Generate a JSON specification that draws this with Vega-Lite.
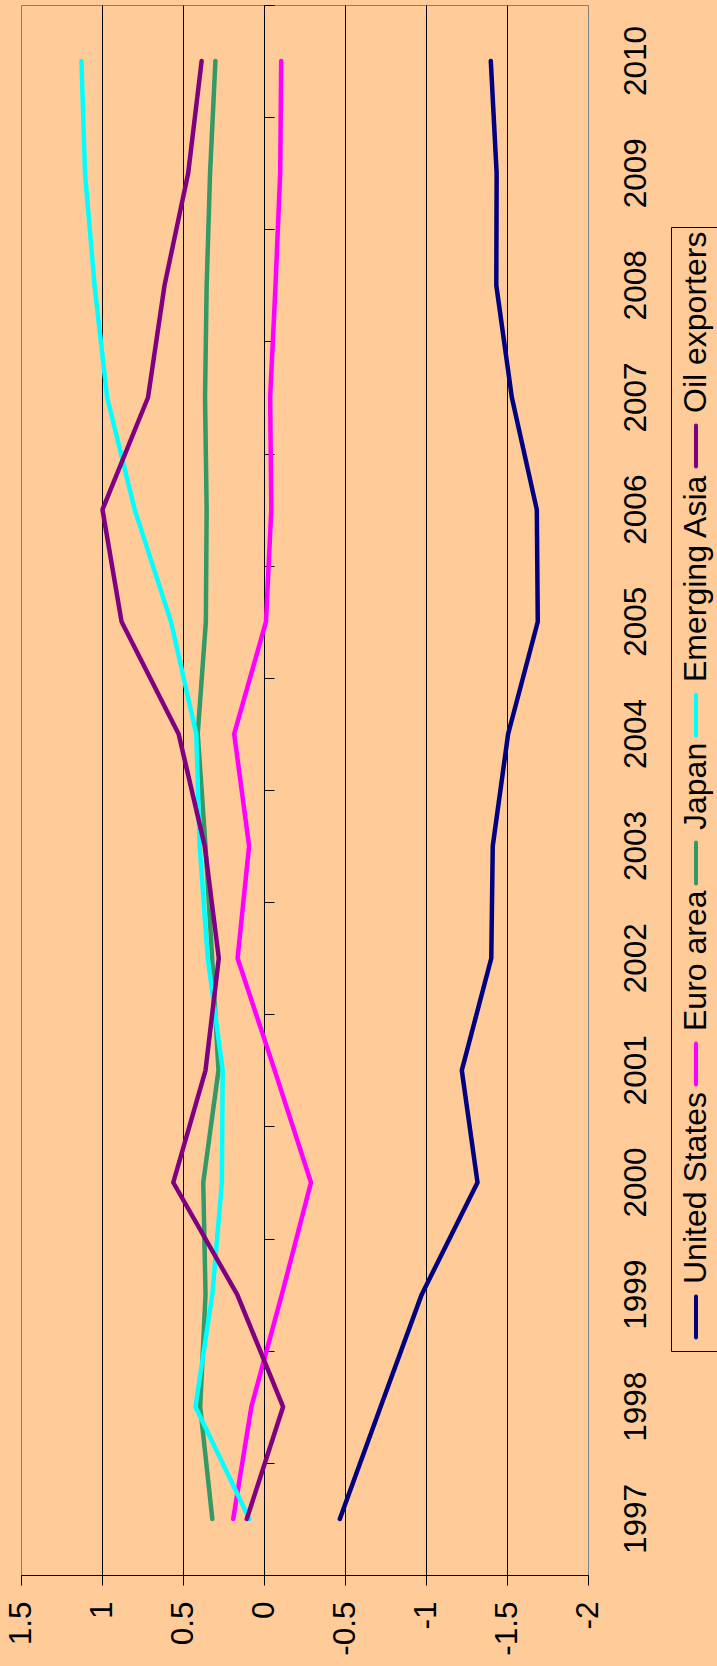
{
  "$schema": "https://vega.github.io/schema/vega-lite/v6.json",
  "width": 567,
  "height": 1570,
  "autosize": {"type": "none"},
  "padding": {"left": 21, "top": 5, "right": 129, "bottom": 91},
  "background": "#FFCC99",
  "config": {"view": {"stroke": "#808080", "strokeWidth": 1}, "font": "Liberation Sans"},
  "data": {"values": [
    {"year": "1997", "series": "United States", "value": -0.468},
    {"year": "1998", "series": "United States", "value": -0.72},
    {"year": "1999", "series": "United States", "value": -0.973},
    {"year": "2000", "series": "United States", "value": -1.318},
    {"year": "2001", "series": "United States", "value": -1.221},
    {"year": "2002", "series": "United States", "value": -1.403},
    {"year": "2003", "series": "United States", "value": -1.412},
    {"year": "2004", "series": "United States", "value": -1.507},
    {"year": "2005", "series": "United States", "value": -1.69},
    {"year": "2006", "series": "United States", "value": -1.684},
    {"year": "2007", "series": "United States", "value": -1.53},
    {"year": "2008", "series": "United States", "value": -1.434},
    {"year": "2009", "series": "United States", "value": -1.436},
    {"year": "2010", "series": "United States", "value": -1.4},
    {"year": "1997", "series": "Euro area", "value": 0.19},
    {"year": "1998", "series": "Euro area", "value": 0.078},
    {"year": "1999", "series": "Euro area", "value": -0.11},
    {"year": "2000", "series": "Euro area", "value": -0.29},
    {"year": "2001", "series": "Euro area", "value": -0.066},
    {"year": "2002", "series": "Euro area", "value": 0.163},
    {"year": "2003", "series": "Euro area", "value": 0.092},
    {"year": "2004", "series": "Euro area", "value": 0.184},
    {"year": "2005", "series": "Euro area", "value": -0.012},
    {"year": "2006", "series": "Euro area", "value": -0.045},
    {"year": "2007", "series": "Euro area", "value": -0.038},
    {"year": "2008", "series": "Euro area", "value": -0.071},
    {"year": "2009", "series": "Euro area", "value": -0.1},
    {"year": "2010", "series": "Euro area", "value": -0.106},
    {"year": "1997", "series": "Japan", "value": 0.319},
    {"year": "1998", "series": "Japan", "value": 0.394},
    {"year": "1999", "series": "Japan", "value": 0.361},
    {"year": "2000", "series": "Japan", "value": 0.375},
    {"year": "2001", "series": "Japan", "value": 0.281},
    {"year": "2002", "series": "Japan", "value": 0.32},
    {"year": "2003", "series": "Japan", "value": 0.361},
    {"year": "2004", "series": "Japan", "value": 0.409},
    {"year": "2005", "series": "Japan", "value": 0.359},
    {"year": "2006", "series": "Japan", "value": 0.354},
    {"year": "2007", "series": "Japan", "value": 0.364},
    {"year": "2008", "series": "Japan", "value": 0.354},
    {"year": "2009", "series": "Japan", "value": 0.333},
    {"year": "2010", "series": "Japan", "value": 0.3},
    {"year": "1997", "series": "Emerging Asia", "value": 0.09},
    {"year": "1998", "series": "Emerging Asia", "value": 0.423},
    {"year": "1999", "series": "Emerging Asia", "value": 0.319},
    {"year": "2000", "series": "Emerging Asia", "value": 0.26},
    {"year": "2001", "series": "Emerging Asia", "value": 0.255},
    {"year": "2002", "series": "Emerging Asia", "value": 0.347},
    {"year": "2003", "series": "Emerging Asia", "value": 0.397},
    {"year": "2004", "series": "Emerging Asia", "value": 0.418},
    {"year": "2005", "series": "Emerging Asia", "value": 0.574},
    {"year": "2006", "series": "Emerging Asia", "value": 0.798},
    {"year": "2007", "series": "Emerging Asia", "value": 0.968},
    {"year": "2008", "series": "Emerging Asia", "value": 1.046},
    {"year": "2009", "series": "Emerging Asia", "value": 1.105},
    {"year": "2010", "series": "Emerging Asia", "value": 1.127},
    {"year": "1997", "series": "Oil exporters", "value": 0.106},
    {"year": "1998", "series": "Oil exporters", "value": -0.118},
    {"year": "1999", "series": "Oil exporters", "value": 0.165},
    {"year": "2000", "series": "Oil exporters", "value": 0.56},
    {"year": "2001", "series": "Oil exporters", "value": 0.361},
    {"year": "2002", "series": "Oil exporters", "value": 0.279},
    {"year": "2003", "series": "Oil exporters", "value": 0.366},
    {"year": "2004", "series": "Oil exporters", "value": 0.527},
    {"year": "2005", "series": "Oil exporters", "value": 0.879},
    {"year": "2006", "series": "Oil exporters", "value": 0.997},
    {"year": "2007", "series": "Oil exporters", "value": 0.716},
    {"year": "2008", "series": "Oil exporters", "value": 0.614},
    {"year": "2009", "series": "Oil exporters", "value": 0.468},
    {"year": "2010", "series": "Oil exporters", "value": 0.385}
  ]},
  "encoding": {
    "x": {
      "field": "value",
      "type": "quantitative",
      "scale": {"domain": [-2, 1.5], "reverse": true, "nice": false, "zero": false},
      "axis": {
        "orient": "bottom",
        "values": [1.5, 1, 0.5, 0, -0.5, -1, -1.5, -2],
        "labelExpr": "datum.value + ''",
        "labelAngle": 270,
        "labelAlign": "right",
        "labelBaseline": "middle",
        "labelFont": "Liberation Sans",
        "labelFontSize": 31.5,
        "labelColor": "black",
        "labelPadding": 16,
        "labelFlush": false,
        "labelOverlap": false,
        "labelBound": false,
        "tickSize": 10,
        "tickColor": "black",
        "domainColor": "black",
        "grid": true,
        "gridWidth": 1,
        "gridColor": {"condition": {"test": "datum.value === 1.5 || datum.value === -2", "value": "#808080"}, "value": "black"},
        "title": null
      }
    }
  },
  "layer": [
    {
      "mark": {"type": "line", "opacity": 0},
      "encoding": {
        "detail": {"field": "series", "type": "nominal"},
        "y": {
          "field": "year",
          "type": "ordinal",
          "sort": "descending",
          "scale": {"type": "band", "paddingInner": 0, "paddingOuter": 0},
          "axis": {
            "orient": "left",
            "offset": -243,
            "labels": false,
            "ticks": true,
            "tickBand": "extent",
            "tickSize": -10,
            "tickColor": "black",
            "domain": true,
            "domainColor": "black",
            "grid": false,
            "title": null
          }
        }
      }
    },
    {
      "mark": {"type": "line", "strokeWidth": 4.5, "strokeCap": "round", "strokeJoin": "round"},
      "encoding": {
        "y": {
          "field": "year",
          "type": "ordinal",
          "sort": "descending",
          "scale": {"type": "band", "paddingInner": 0, "paddingOuter": 0},
          "axis": {
            "orient": "right",
            "labelAngle": 270,
            "labelAlign": "center",
            "labelBaseline": "middle",
            "labelFont": "Liberation Sans",
            "labelFontSize": 31.5,
            "labelColor": "black",
            "labelPadding": 48,
            "labelOverlap": false,
            "ticks": false,
            "domain": false,
            "grid": false,
            "title": null
          }
        },
        "color": {
          "field": "series",
          "type": "nominal",
          "scale": {
            "domain": ["Oil exporters", "Emerging Asia", "Japan", "Euro area", "United States"],
            "range": ["#800080", "#00FFFF", "#339966", "#FF00FF", "#000080"]
          },
          "legend": {
            "orient": "none",
            "legendX": 650,
            "legendY": 222,
            "direction": "vertical",
            "title": " ",
            "titleFontSize": 1,
            "titlePadding": 213,
            "strokeColor": "black",
            "padding": 5,
            "rowPadding": -2,
            "symbolType": "M0,-1L0,1",
            "symbolSize": 1681,
            "symbolStrokeWidth": 4,
            "labelFont": "Liberation Sans",
            "labelFontSize": 32,
            "labelColor": "black",
            "labelLimit": 0,
            "encode": {
              "symbols": {"update": {"x": {"value": 20}, "y": {"value": 0}, "strokeCap": {"value": "round"}}},
              "labels": {"update": {"x": {"value": 20}, "y": {"value": -33}, "angle": {"value": 270}, "align": {"value": "left"}, "baseline": {"value": "middle"}}}
            }
          }
        }
      }
    }
  ],
  "resolve": {"axis": {"y": "independent"}}
}
